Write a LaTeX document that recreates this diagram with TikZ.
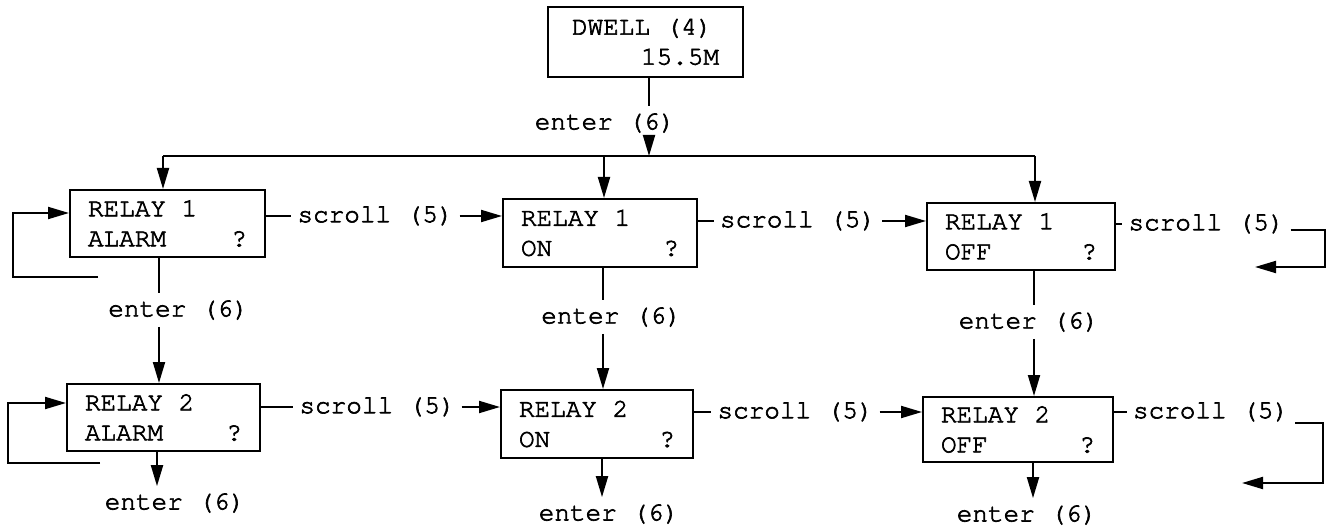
\documentclass[tikz,border=0pt]{standalone}
\usepackage{fontspec}
\newfontfamily\panelfont{texgyrecursor-regular.otf}[FakeBold=2.5]
\usetikzlibrary{arrows.meta}
\begin{document}
\begin{tikzpicture}[x=1pt,y=-1pt,
  every node/.style={font=\panelfont\fontsize{26}{30}\selectfont},
  panel/.style={draw, line width=2pt, inner xsep=18pt, inner ysep=0pt, align=flush left},
  lbl/.style={inner xsep=6pt, inner ysep=7pt},
  wire/.style={line width=2pt},
  arr/.style={wire, -{Triangle[length=21pt,width=12pt]}}]
\useasboundingbox (0,0) rectangle (1335,526);

% display panels
\node[panel, inner xsep=24pt, text width=147pt, minimum height=70pt] (dw) at (645.5,42) {DWELL (4)\\\hfill 15.5M};
\node[panel, text width=159pt, minimum height=67pt] (r1a) at (167.5,223.5) {RELAY 1\\ALARM\hfill ?};
\node[panel, text width=158pt, minimum height=68pt] (r1b) at (600,233) {RELAY 1\\ON\hfill ?};
\node[panel, text width=152pt, minimum height=67pt] (r1c) at (1021,236.5) {RELAY 1\\OFF\hfill ?};
\node[panel, text width=157pt, minimum height=67pt] (r2a) at (163.5,417.5) {RELAY 2\\ALARM\hfill ?};
\node[panel, text width=156pt, minimum height=68pt] (r2b) at (597,424) {RELAY 2\\ON\hfill ?};
\node[panel, text width=154pt, minimum height=65pt] (r2c) at (1018,429.5) {RELAY 2\\OFF\hfill ?};

% key labels
\node[lbl] (e0) at (605,123) {enter (6)};
\node[lbl] (s1a) at (375.5,216) {scroll (5)};
\node[lbl] (s1b) at (798,221) {scroll (5)};
\node[lbl] (s1c) at (1206.5,224) {scroll (5)};
\node[lbl] (s2a) at (377.5,407) {scroll (5)};
\node[lbl] (s2b) at (795.5,412) {scroll (5)};
\node[lbl] (s2c) at (1211,412) {scroll (5)};
\node[lbl] (e1a) at (178.5,310) {enter (6)};
\node[lbl] (e1b) at (611.5,317) {enter (6)};
\node[lbl] (e1c) at (1029,322) {enter (6)};
\node[lbl] (e2a) at (175,503) {enter (6)};
\node[lbl] (e2b) at (609,514) {enter (6)};
\node[lbl] (e2c) at (1027,515) {enter (6)};

% routing points
\coordinate (hd) at (649,156);
\coordinate (ha) at (163,156);
\coordinate (hb) at (604,156);
\coordinate (hc) at (1035,156);
\coordinate (xa) at (159,0);
\coordinate (xb) at (603,0);
\coordinate (xc) at (1034,0);
\coordinate (ya) at (157,0);
\coordinate (yb) at (602,0);
\coordinate (yc) at (1033,0);
\coordinate (l1a) at (98,277);
\coordinate (l1b) at (13,277);
\coordinate (l1c) at (13,213);
\coordinate (l2a) at (100,463);
\coordinate (l2b) at (8,463);
\coordinate (l2c) at (8,403);
\coordinate (k1a) at (1325,230);
\coordinate (k1b) at (1325,267);
\coordinate (k1c) at (1255,267);
\coordinate (k2a) at (1323,423);
\coordinate (k2b) at (1323,483);
\coordinate (k2c) at (1242,483);

% from the dwell display to the first row
\draw[wire] (dw.south -| hd) -- (e0.north -| hd);
\draw[arr] (e0.south -| hd) -- (hd);
\draw[wire] (ha) -- (hc);
\draw[arr] (ha) -- (ha |- r1a.north);
\draw[arr] (hb) -- (hb |- r1b.north);
\draw[arr] (hc) -- (hc |- r1c.north);

% scroll through the first row
\draw[arr] (l1a) -- (l1b) -- (l1c) -- (l1c -| r1a.west);
\draw[wire] (s1a.west -| r1a.east) -- (s1a.west);
\draw[arr] (s1a.east) -- (s1a.east -| r1b.west);
\draw[wire] (s1b.west -| r1b.east) -- (s1b.west);
\draw[arr] (s1b.east) -- (s1b.east -| r1c.west);
\draw[wire] (s1c.west -| r1c.east) -- (s1c.west);
\draw[arr] (s1c.east |- k1a) -- (k1a) -- (k1b) -- (k1c);

% enter from the first row to the second
\draw[wire] (r1a.south -| xa) -- (e1a.north -| xa);
\draw[arr] (e1a.south -| xa) -- (r2a.north -| xa);
\draw[wire] (r1b.south -| xb) -- (e1b.north -| xb);
\draw[arr] (e1b.south -| xb) -- (r2b.north -| xb);
\draw[wire] (r1c.south -| xc) -- (e1c.north -| xc);
\draw[arr] (e1c.south -| xc) -- (r2c.north -| xc);

% scroll through the second row
\draw[arr] (l2a) -- (l2b) -- (l2c) -- (l2c -| r2a.west);
\draw[wire] (s2a.west -| r2a.east) -- (s2a.west);
\draw[arr] (s2a.east) -- (s2a.east -| r2b.west);
\draw[wire] (s2b.west -| r2b.east) -- (s2b.west);
\draw[arr] (s2b.east) -- (s2b.east -| r2c.west);
\draw[wire] (s2c.west -| r2c.east) -- (s2c.west);
\draw[arr] (s2c.east |- k2a) -- (k2a) -- (k2b) -- (k2c);

% enter from the second row
\draw[arr] (r2a.south -| ya) -- (e2a.north -| ya);
\draw[arr] (r2b.south -| yb) -- (e2b.north -| yb);
\draw[arr] (r2c.south -| yc) -- (e2c.north -| yc);
\end{tikzpicture}
\end{document}
